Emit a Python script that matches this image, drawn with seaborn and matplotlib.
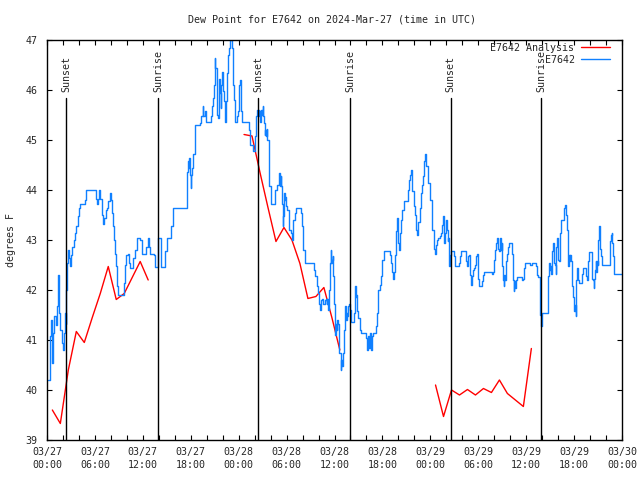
import pandas as pd
import seaborn as sns
import matplotlib.pyplot as plt
import matplotlib.dates as mdates
import matplotlib.transforms as mtransforms
from matplotlib.lines import Line2D

# ================================
# Data, hours since 2024-03-27 00:00 UTC
# ================================
start = pd.Timestamp("2024-03-27 00:00")

# station observations (E7642), step line
obs_hours = [
    0.17, 0.33, 0.46, 0.58, 0.67, 0.75, 0.92, 1.09, 1.25, 1.34,
    1.42, 1.50, 1.67, 1.84, 1.96, 2.09, 2.25, 2.34, 2.42, 2.50,
    2.67, 2.75, 2.88, 3.01, 3.17, 3.34, 3.51, 3.67, 3.84, 4.01,
    4.17, 4.76, 4.93, 5.93, 6.09, 6.22, 6.43, 6.55, 6.68, 6.85,
    6.97, 7.18, 7.35, 7.51, 7.68, 7.85, 7.97, 8.10, 8.26, 8.43,
    8.56, 8.68, 8.77, 8.93, 9.43, 9.60, 9.77, 9.93, 10.10, 10.27,
    10.43, 10.81, 11.02, 11.23, 11.65, 11.85, 11.94, 12.36, 12.60, 12.77,
    12.94,
    13.40, 13.48, 13.90, 14.23, 14.82, 14.98, 15.57, 15.74, 15.82, 17.49,
    17.57, 17.66, 17.74, 17.82, 17.91, 17.99, 18.07, 18.16, 18.24, 18.32,
    18.57, 19.16, 19.24, 19.49, 19.58, 19.74, 19.91, 20.58, 20.66, 20.83,
    20.91, 21.00, 21.08, 21.25, 21.33, 21.41, 21.50, 21.58, 21.66, 21.75,
    21.83, 21.91, 22.08, 22.16, 22.25, 22.33, 22.41, 22.50, 22.58, 22.66,
    22.83, 22.92, 23.17, 23.25, 23.33, 23.42, 23.50, 23.58, 23.75, 23.92,
    24.00, 24.08, 24.17, 24.25, 24.33, 24.42, 25.34,
    25.42, 25.84, 26.09, 26.17, 26.34, 26.42, 26.50, 26.59, 26.67, 26.75,
    26.84, 26.92, 27.01, 27.09, 27.17, 27.26, 27.34, 27.42, 27.51, 27.59,
    27.76, 27.84, 28.01, 28.59, 28.84, 29.01, 29.09, 29.18, 29.26, 29.34,
    29.43, 29.51, 29.59, 29.68, 29.76, 29.84, 29.93, 30.09, 30.26, 30.34,
    30.51, 30.68, 30.76, 30.85, 31.01, 31.18, 31.76, 31.93, 32.10, 32.27,
    33.27, 33.43, 33.60, 33.77, 33.93, 34.02, 34.10, 34.19, 34.27, 34.44,
    34.60, 34.77, 34.94, 35.02, 35.10, 35.19, 35.27, 35.35, 35.44, 35.52,
    35.60, 35.69, 35.77, 35.85, 35.94, 36.02, 36.10, 36.19, 36.27, 36.36,
    36.44, 36.52, 36.61, 36.77, 36.86, 36.94, 37.02, 37.19, 37.27, 37.36,
    37.44, 37.53, 37.61, 37.69,
    37.82, 37.98, 38.07, 38.40, 38.57, 38.65, 38.74, 38.82, 38.98, 39.15,
    39.24, 39.32, 39.90, 40.07, 40.15, 40.32, 40.40, 40.57, 40.66, 40.82,
    41.16, 41.32, 41.41, 41.49, 41.66, 41.82, 41.91, 41.99, 42.16, 42.99,
    43.08, 43.24, 43.33, 43.41, 43.58, 43.74, 43.83, 43.91, 43.99, 44.08,
    44.24, 44.33, 44.49, 44.66, 45.25, 45.33, 45.50, 45.58, 45.66, 45.75,
    45.91, 46.08, 46.17, 46.25, 46.33, 46.42, 46.50, 46.67, 46.83, 46.92,
    47.08, 47.25, 47.33, 47.42, 47.50, 47.67, 47.75, 47.92, 48.00, 48.17,
    48.25, 48.42, 48.50, 48.59, 48.67, 48.84, 49.00, 49.17, 49.34, 49.50,
    49.59, 49.67, 49.75, 49.84, 50.00, 50.09, 50.17, 50.25,
    50.34, 50.42, 50.59, 50.92, 51.09, 51.59, 51.76, 51.84, 52.42, 52.51,
    52.59, 52.76, 52.84, 52.93, 53.01, 53.09, 53.18, 53.34, 53.51, 53.59,
    53.68, 53.76, 53.84, 53.93, 54.01, 54.09, 54.43, 54.60, 54.76, 55.68,
    55.85, 55.93, 56.01, 56.10, 56.18, 56.35, 56.43, 56.51, 56.60, 56.68,
    56.77, 56.85, 56.93, 57.02, 57.10, 57.18, 57.27, 57.35, 57.44, 57.52,
    57.60, 57.77, 57.85, 58.27, 58.36, 58.44, 58.52, 58.61, 58.69, 58.86,
    59.53, 59.61, 59.70, 59.78, 59.86, 60.53, 60.70,
    61.27, 61.36, 61.44, 61.69, 61.77, 61.86, 61.94, 62.03, 62.69, 62.78,
    62.86, 62.94, 63.03, 63.11, 63.19, 63.28, 63.36, 63.44, 63.53, 63.61,
    63.69, 63.78, 63.86, 63.95, 64.03, 64.11, 64.20, 64.28, 64.36, 64.70,
    64.78, 64.86, 64.95, 65.03, 65.11, 65.20, 65.28, 65.36, 65.45, 65.53,
    65.61, 65.70, 65.78, 65.87, 65.95, 66.03, 66.12, 66.20, 66.28, 66.37,
    66.45, 66.53, 66.62, 66.95, 67.03, 67.12, 67.45, 67.54, 67.62, 67.70,
    67.79, 67.87, 68.20, 68.29, 68.37, 68.45, 68.54, 68.62, 68.70, 68.79,
    68.87, 68.95, 69.04, 69.12, 69.20, 69.29, 69.37, 69.46, 70.46, 70.54,
    70.62, 70.71, 70.79, 70.87, 70.96, 72.00,
]
obs_dew = [
    40.20, 41.07, 41.40, 40.87, 40.53, 41.13, 41.47, 41.30, 41.67, 42.03,
    42.30, 41.53, 41.20, 40.93, 40.80, 41.13, 41.53, 41.33, 42.00, 42.53,
    42.80, 42.63, 42.47, 42.70, 42.87, 43.00, 43.13, 43.27, 43.47, 43.63,
    43.71, 43.80, 44.01, 44.00, 43.83, 43.72, 43.83, 44.00, 43.83, 43.50,
    43.33, 43.43, 43.60, 43.63, 43.77, 43.93, 43.80, 43.53, 43.27, 43.00,
    42.73, 42.47, 42.07, 41.90, 41.90, 42.13, 42.50, 42.70, 42.73, 42.53,
    42.43, 42.63, 42.80, 43.03, 43.00, 42.87, 42.73, 42.87, 43.03, 42.87,
    42.73,
    42.70, 42.45, 43.03, 42.45, 42.77, 43.03, 43.27, 43.40, 43.63, 43.90,
    44.37, 44.57, 44.43, 44.63, 44.30, 44.03, 44.30, 44.43, 44.57, 44.73,
    45.30, 45.33, 45.47, 45.67, 45.47, 45.57, 45.37, 45.47, 45.67, 45.83,
    46.10, 46.63, 46.43, 45.90, 45.50, 45.43, 45.77, 46.23, 45.93, 45.63,
    46.10, 46.37, 45.97, 45.77, 45.50, 45.37, 45.77, 46.07, 46.33, 46.70,
    46.83, 47.00, 46.83, 46.37, 46.10, 45.80, 45.50, 45.37, 45.47, 45.57,
    45.77, 46.10, 46.20, 45.80, 45.57, 45.37, 45.20,
    44.90, 44.77, 45.07, 45.47, 45.60, 45.47, 45.60, 45.57, 45.37, 45.53,
    45.60, 45.50, 45.67, 45.47, 45.33, 45.10, 45.20, 45.07, 45.23, 45.00,
    44.67, 44.07, 43.73, 44.00, 44.10, 44.20, 44.33, 44.07, 44.27, 44.07,
    43.73, 43.27, 43.47, 43.93, 43.80, 43.87, 43.67, 43.60, 43.33, 43.20,
    43.13, 43.00, 43.13, 43.40, 43.53, 43.63, 43.53, 43.27, 42.80, 42.53,
    42.53, 42.40, 42.27, 42.07, 41.93, 41.80, 41.73, 41.60, 41.80, 41.83,
    41.73, 41.80, 41.83, 41.73, 41.83, 41.60, 41.73, 42.00, 42.53, 42.80,
    42.53, 42.60, 42.67, 42.27, 41.73, 41.40, 41.10, 41.33, 41.20, 41.40,
    41.33, 41.13, 40.73, 40.40, 40.60, 40.47, 40.73, 41.20, 41.47, 41.67,
    41.40, 41.53, 41.47, 41.67,
    41.73, 41.60, 41.37, 41.53, 42.07, 41.87, 41.90, 41.57, 41.43, 41.37,
    41.20, 41.13, 41.03, 40.80, 41.07, 40.83, 41.13, 40.80, 41.07, 41.13,
    41.27, 41.53, 41.73, 42.00, 42.10, 42.27, 42.33, 42.60, 42.77, 42.70,
    42.53, 42.37, 42.23, 42.37, 42.70, 43.17, 43.43, 43.27, 42.93, 42.80,
    43.13, 43.40, 43.60, 43.77, 44.00, 44.20, 44.30, 44.40, 44.23, 43.97,
    43.67, 43.50, 43.37, 43.20, 43.10, 43.20, 43.37, 43.63, 43.93, 44.10,
    44.27, 44.57, 44.73, 44.63, 44.47, 44.30, 44.13, 43.97, 43.80, 43.53,
    43.20, 42.97, 42.83, 42.73, 42.90, 43.00, 43.03, 43.07, 43.13, 43.30,
    43.47, 43.27, 42.93, 43.13, 43.40, 43.20, 42.97, 43.03,
    42.47, 42.70, 42.77, 42.67, 42.47, 42.53, 42.67, 42.77, 42.70, 42.57,
    42.47, 42.67, 42.70, 42.60, 42.30, 42.10, 42.27, 42.40, 42.43, 42.50,
    42.57, 42.67, 42.73, 42.47, 42.23, 42.07, 42.17, 42.30, 42.35, 42.31,
    42.35, 42.43, 42.60, 42.80, 42.93, 43.03, 42.93, 42.83, 42.77, 42.93,
    43.03, 42.80, 42.93, 42.47, 42.20, 42.07, 42.30, 42.20, 42.40, 42.57,
    42.73, 42.87, 42.93, 42.73, 42.20, 41.97, 42.17, 42.03, 42.20, 42.25,
    42.20, 42.23, 42.30, 42.43, 42.53, 42.50, 42.53,
    42.47, 42.30, 42.25, 42.00, 41.50, 41.27, 41.40, 41.53, 41.77, 42.27,
    42.53, 42.40, 42.47, 42.33, 42.47, 42.77, 42.93, 42.77, 42.53, 42.50,
    42.33, 42.87, 43.03, 42.87, 42.60, 42.57, 42.97, 43.13, 43.40, 43.50,
    43.63, 43.70, 43.63, 43.50, 43.20, 42.87, 42.47, 42.70, 42.57, 42.70,
    42.57, 42.40, 42.07, 41.87, 41.73, 41.57, 41.70, 41.47, 42.20, 42.43,
    42.33, 42.20, 42.13, 42.21, 42.33, 42.43, 42.37, 42.27, 42.20, 42.30,
    42.57, 42.75, 42.60, 42.23, 42.20, 42.03, 42.23, 42.40, 42.57, 42.37,
    42.57, 42.50, 43.00, 43.27, 43.07, 42.83, 42.67, 42.50, 42.67, 42.97,
    43.10, 43.13, 42.93, 42.67, 42.33, 42.33,
]

# hourly analysis (E7642 Analysis), three separate runs
ana_hours = [
    0.67, 1.67, 2.67, 3.67, 4.67, 5.67, 6.67, 7.67, 8.67, 9.67, 10.67, 11.67, 12.67,
    24.67, 25.67, 26.67, 27.67, 28.67, 29.67, 30.67, 31.67, 32.67, 33.67, 34.67, 35.67, 36.67,
    48.65, 49.65, 50.65, 51.65, 52.65, 53.65, 54.65, 55.65, 56.65, 57.65, 58.65, 59.65, 60.65,
]
ana_dew = [
    39.60, 39.33, 40.40, 41.17, 40.95, 41.45, 41.93, 42.47, 41.81, 41.93, 42.25, 42.57, 42.20,
    45.11, 45.08, 44.35, 43.65, 42.97, 43.25, 43.00, 42.53, 41.83, 41.87, 42.05, 41.45, 40.80,
    40.10, 39.47, 40.00, 39.90, 40.01, 39.90, 40.03, 39.95, 40.20, 39.93, 39.80, 39.67, 40.83,
]
ana_run = [1] * 13 + [2] * 13 + [3] * 13

sun_labels = ["Sunset", "Sunrise", "Sunset", "Sunrise", "Sunset", "Sunrise"]
sun_times = ["2024-03-27 02:25", "2024-03-27 13:54", "2024-03-28 02:28",
             "2024-03-28 13:58", "2024-03-29 02:32", "2024-03-29 13:54"]

assert len(obs_hours) == len(obs_dew)

obs = pd.DataFrame({"time": start + pd.to_timedelta(obs_hours, unit="h"), "dew": obs_dew})
ana = pd.DataFrame({"time": start + pd.to_timedelta(ana_hours, unit="h"), "dew": ana_dew, "run": ana_run})

# ================================
# Style
# ================================
sns.set_style("ticks")
plt.rcParams["font.family"] = ["DejaVu Sans Mono"]
plt.rcParams["font.size"] = 7.2
plt.rcParams["xtick.direction"] = "in"
plt.rcParams["ytick.direction"] = "in"
plt.rcParams["xtick.top"] = True
plt.rcParams["ytick.right"] = True

red = "#ff0000"
blue = "#1080ff"
fs = 7.2

fig = plt.figure(figsize=(6.4, 4.8), dpi=100)
ax = fig.add_axes([47 / 640, 40 / 480, 575 / 640, 400 / 480])

# ================================
# Plot
# ================================
sns.lineplot(data=ana, x="time", y="dew", units="run", estimator=None,
             color=red, lw=1.0, legend=False, ax=ax)
sns.lineplot(data=obs, x="time", y="dew", estimator=None, drawstyle="steps-post",
             color=blue, lw=1.0, legend=False, ax=ax)

trans = mtransforms.blended_transform_factory(ax.transData, ax.transAxes)
for lab, t in zip(sun_labels, sun_times):
    t = pd.Timestamp(t)
    ax.axvline(t, ymin=0, ymax=0.855, color="black", lw=1.0, zorder=3)
    ax.text(t, 0.87, lab, transform=trans, rotation=90, ha="center", va="bottom",
            fontsize=fs)

ax.set_xlim(start, start + pd.Timedelta(hours=72))
ax.set_ylim(39, 47)
ax.set_yticks(range(39, 48))
ax.xaxis.set_major_locator(mdates.HourLocator(byhour=[0, 6, 12, 18]))
ax.xaxis.set_minor_locator(mdates.HourLocator(byhour=range(0, 24, 2)))
ax.xaxis.set_major_formatter(mdates.DateFormatter("%m/%d\n%H:%M"))
ax.tick_params(which="both", length=3.6, width=0.8, color="black", labelsize=fs)
ax.tick_params(axis="x", pad=5)
ax.tick_params(axis="y", pad=7)
for lab in ax.get_xticklabels():
    lab.set_linespacing(1.4)

for s in ax.spines.values():
    s.set_color("black")
    s.set_linewidth(1.0)

ax.set_xlabel("")
ax.set_ylabel("degrees F", fontsize=fs)
ax.yaxis.set_label_coords(-0.054, 0.5)

fig.text(332 / 640, 1 - 20 / 480, "Dew Point for E7642 on 2024-Mar-27 (time in UTC)",
         ha="center", va="center", fontsize=fs)

handles = [Line2D([], [], color=red, lw=1.0, label="E7642 Analysis"),
           Line2D([], [], color=blue, lw=1.0, label="E7642")]
ax.legend(handles=handles, loc="upper right", bbox_to_anchor=(1 - 12 / 575, 1 - 3 / 400),
          frameon=False, markerfirst=False, handlelength=2.9, handletextpad=0.65,
          labelspacing=0.2, borderpad=0, borderaxespad=0, fontsize=fs)

fig.savefig("out.png", dpi=100)
